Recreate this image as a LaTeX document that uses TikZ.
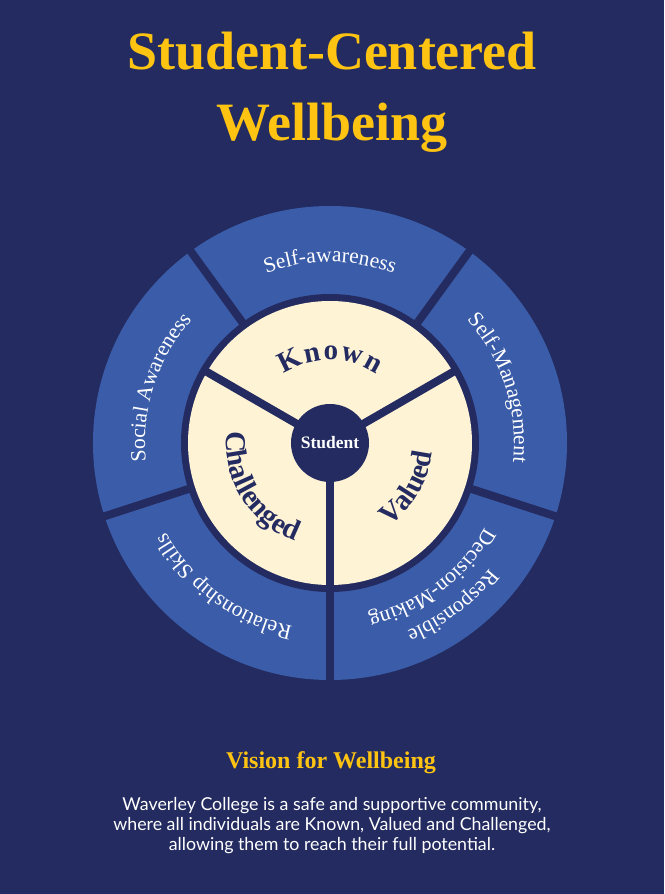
\documentclass[tikz,border=0pt]{standalone}
\usepackage{fontspec}
\setmainfont{Liberation Serif}
\newfontfamily\bodyfont{Lato}
\usetikzlibrary{decorations.text}
\definecolor{bgnavy}{RGB}{35,43,96}
\definecolor{segblue}{RGB}{59,92,168}
\definecolor{creamfill}{RGB}{255,243,214}
\definecolor{goldtext}{RGB}{255,196,18}
\tikzset{
  divider/.style={bgnavy, line width=8pt},
  outerlabel/.style={decorate, decoration={text along path, text align=center,
     text color=white, text={|\fontsize{21.5}{21.5}\selectfont\color{white}|#1}}},
  innerlabel/.style={decorate, decoration={text along path, text align=center,
     text color=bgnavy, text={|\bfseries\fontsize{29}{29}\selectfont\color{bgnavy}|#1}}},
  innerfit/.style={decorate, decoration={text along path, text align=fit to path,
     text color=bgnavy, text={|\bfseries\fontsize{29}{29}\selectfont\color{bgnavy}|#1}}},
  bodyline/.style={anchor=base, text=white, font=\bodyfont\fontsize{17.8}{20}\selectfont},
}
\begin{document}
\begin{tikzpicture}[x=1pt,y=1pt]
\fill[bgnavy] (-330,-451) rectangle (334,443);
\useasboundingbox (-330,-451) rectangle (334,443);
\coordinate (c) at (0,0);
% outer ring
\fill[segblue] (c) circle[radius=237];
\fill[bgnavy] (c) circle[radius=149];
\foreach \a in {54,126,198,270,342}{
  \coordinate (g\a) at (\a:241);
  \draw[divider] (c) -- (g\a);
}
% inner disc
\fill[creamfill] (c) circle[radius=142];
\foreach \a in {30,150,270}{
  \coordinate (s\a) at (\a:145);
  \draw[divider] (c) -- (s\a);
}
\node[circle, fill=bgnavy, minimum size=78pt, inner sep=0pt, text=white,
      font=\bfseries\fontsize{17.5}{17.5}\selectfont] (student) at (c) {Student};
% inner words
\path[innerfit=Known] (124:83) arc[start angle=124, end angle=56, radius=83];
\path[innerlabel=Valued] (-75:102) arc[start angle=-75, end angle=15, radius=102];
\path[innerlabel=Challenged] (167:104) arc[start angle=167, end angle=257, radius=104];
% outer labels
\path[outerlabel=Self-awareness] (126:181) arc[start angle=126, end angle=54, radius=181];
\path[outerlabel=Self-Management] (54:184) arc[start angle=54, end angle=-18, radius=184];
\path[outerlabel=Responsible] (-17:203) arc[start angle=-17, end angle=-89, radius=203];
\path[outerlabel=Decision-Making] (-17:176) arc[start angle=-17, end angle=-89, radius=176];
\path[outerlabel=Relationship Skills] (270:187) arc[start angle=270, end angle=197, radius=187];
\path[outerlabel=Social Awareness] (198:185) arc[start angle=198, end angle=126, radius=185];
% titles
\node[anchor=base, text=goldtext, font=\bfseries\fontsize{54}{54}\selectfont] (title1) at (2,373) {Student-Centered};
\node[anchor=base, text=goldtext, font=\bfseries\fontsize{54}{54}\selectfont] (title2) at (2,302) {Wellbeing};
\node[anchor=base, text=goldtext, font=\bfseries\fontsize{24}{24}\selectfont] (vision) at (1,-325) {Vision for Wellbeing};
\node[bodyline] (body1) at (2,-367) {Waverley College is a safe and supportive community,};
\node[bodyline] (body2) at (2,-387) {where all individuals are Known, Valued and Challenged,};
\node[bodyline] (body3) at (2,-407) {allowing them to reach their full potential.};
\end{tikzpicture}
\end{document}
